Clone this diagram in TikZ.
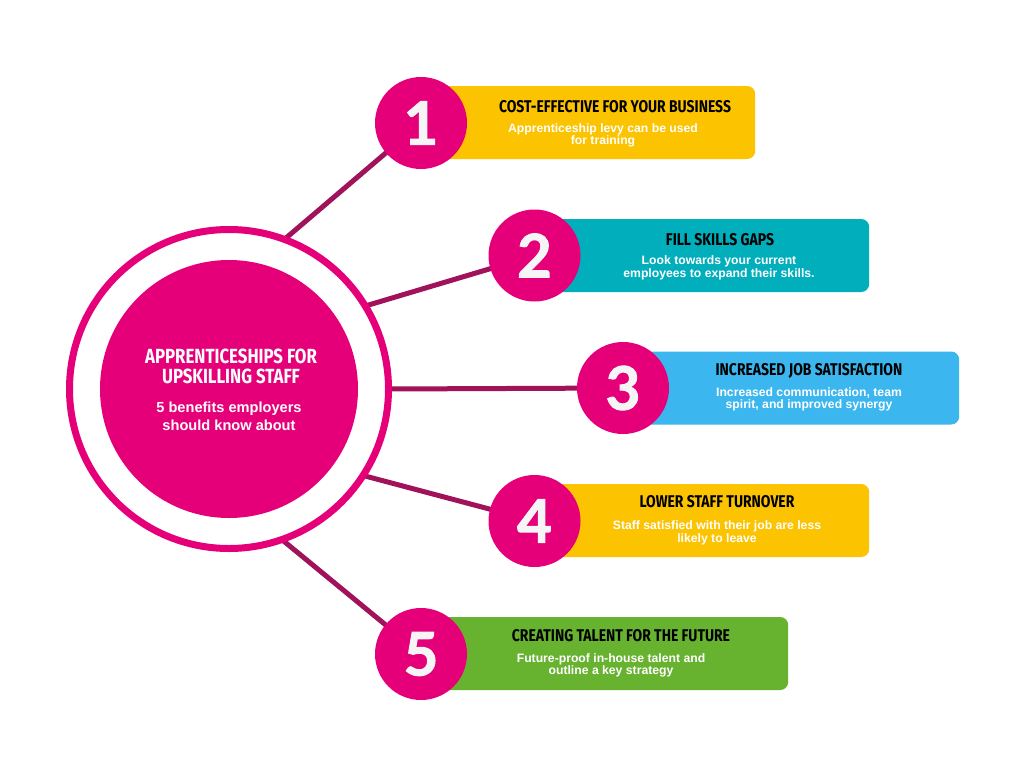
\documentclass[tikz,border=0pt]{standalone}
\usepackage{fontspec}
\setmainfont{Liberation Sans}
\newfontfamily\headfont{Fira Sans}[FakeStretch=0.82]
\newfontfamily\numfont{Lato}[BoldFeatures={FakeBold=1.6}]
\usetikzlibrary{calc,backgrounds}
\definecolor{mag}{HTML}{E5007A}
\definecolor{conncol}{HTML}{A0135A}
\definecolor{ylw}{HTML}{FBC300}
\definecolor{tealc}{HTML}{00AEBC}
\definecolor{skyb}{HTML}{3BB6EE}
\definecolor{grn}{HTML}{67B22F}
\definecolor{numwhite}{HTML}{F5F5F5}
\begin{document}
\begin{tikzpicture}[x=1pt,y=-1pt,
  conn/.style={draw=conncol, line width=5pt},
  numc/.style={circle, fill=mag, minimum size=92pt, inner sep=0pt,
    font=\numfont\bfseries\fontsize{60}{60}\selectfont, text=numwhite},
  bar/.style={rounded corners=8pt, minimum height=73pt, anchor=west, inner sep=0pt},
  head/.style={font=\headfont\bfseries\fontsize{17}{20}\selectfont, text=black, inner sep=0pt},
  body/.style={font=\bfseries\fontsize{12.2}{12.7}\selectfont, text=white, align=center, inner sep=0pt}]
\useasboundingbox (0,0) rectangle (1024,768);
\begin{pgfonlayer}{background}
\fill[white] (0,0) rectangle (1024,768);
\end{pgfonlayer}

% central circle
\node[circle, draw=mag, line width=7pt, minimum size=319pt, inner sep=0pt] (ring) at (229,389) {};
\node[circle, fill=mag, minimum size=258pt, inner sep=0pt] (core) at (229,389) {};

% bars
\node[bar, fill=ylw, minimum width=334pt] (bar1) at (421,122.5) {};
\node[bar, fill=tealc, minimum width=334.5pt] (bar2) at (534.5,255.5) {};
\node[bar, fill=skyb, minimum width=336pt] (bar3) at (623,388) {};
\node[bar, fill=ylw, minimum width=334.5pt] (bar4) at (534.5,520.5) {};
\node[bar, fill=grn, minimum width=367pt] (bar5) at (421,653.5) {};

% number circles
\node[numc] (n1) at (421,123) {1};
\node[numc] (n2) at (534.5,255.5) {2};
\node[numc] (n3) at (623,388) {3};
\node[numc] (n4) at (534.5,521) {4};
\node[numc] (n5) at (421,654) {5};

% connectors
\coordinate (r1) at ($(ring.center)+(-70:158)$);
\coordinate (r2) at ($(ring.center)+(-31.5:158)$);
\coordinate (r3) at ($(ring.center)+(0:158)$);
\coordinate (r4) at ($(ring.center)+(33:158)$);
\coordinate (r5) at ($(ring.center)+(71:158)$);
\begin{pgfonlayer}{background}
\draw[conn] (r1) -- (n1.center);
\draw[conn] (r2) -- (n2.center);
\draw[conn] (r3) -- (n3.center);
\draw[conn] (r4) -- (n4.center);
\draw[conn] (r5) -- (n5.center);
\end{pgfonlayer}

% texts
\node[head] (h1) at (615,107) {COST-EFFECTIVE FOR YOUR BUSINESS};
\node[body] (b1) at (603,135.5) {Apprenticeship levy can be used\\for training};
\node[head] (h2) at (720,240) {FILL SKILLS GAPS};
\node[body] (b2) at (719,268) {Look towards your current\\employees to expand their skills.};
\node[head] (h3) at (809,371) {INCREASED JOB SATISFACTION};
\node[body] (b3) at (809,399.5) {Increased communication, team\\spirit, and improved synergy};
\node[head] (h4) at (717,502) {LOWER STAFF TURNOVER};
\node[body] (b4) at (717,532.5) {Staff satisfied with their job are less\\likely to leave};
\node[head] (h5) at (621,636) {CREATING TALENT FOR THE FUTURE};
\node[body] (b5) at (611,665.5) {Future-proof in-house talent and\\outline a key strategy};

\node[head, text=white, align=center, font=\headfont\bfseries\fontsize{20.5}{19.5}\selectfont] (ht) at (231,366.5) {APPRENTICESHIPS FOR\\UPSKILLING STAFF};
\node[body, font=\bfseries\fontsize{14.6}{18}\selectfont] (bt) at (229,416) {5 benefits employers\\should know about};
\end{tikzpicture}
\end{document}
